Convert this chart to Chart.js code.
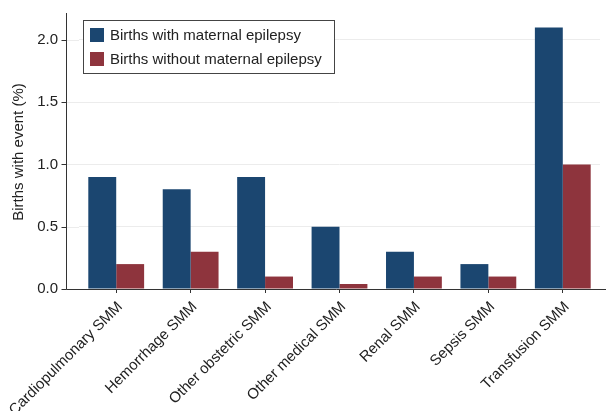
<!DOCTYPE html>
<html>
<head>
<meta charset="utf-8">
<script src="https://cdn.jsdelivr.net/npm/chart.js@4/dist/chart.umd.min.js"></script>
<style>
  html, body { margin: 0; padding: 0; background: #fff; }
  #wrap { width: 606px; height: 411px; }
</style>
</head>
<body>
<div id="wrap"><canvas id="smmChart" width="606" height="411"></canvas></div>
<script>
const categories = ["Cardiopulmonary SMM", "Hemorrhage SMM", "Other obstetric SMM", "Other medical SMM", "Renal SMM", "Sepsis SMM", "Transfusion SMM"];
const withEpilepsy = [0.9, 0.8, 0.9, 0.5, 0.3, 0.2, 2.1];
const withoutEpilepsy = [0.2, 0.3, 0.1, 0.04, 0.1, 0.1, 1.0];
const yTicks = [0, 0.5, 1.0, 1.5, 2.0];

const FONT = "'Liberation Sans', Arial, sans-serif";
const AXIS = "#333";

// axis lines, y tick marks, gridline stubs and the boxed legend
const framePlugin = {
  id: "frame",
  beforeDatasetsDraw(chart) {
    const { ctx, chartArea, scales } = chart;
    const axisX = chartArea.left - 13;
    ctx.save();
    ctx.strokeStyle = "#ececec";
    ctx.lineWidth = 1;
    yTicks.forEach(v => {
      if (v === 0) return;
      const y = Math.round(scales.y.getPixelForValue(v)) + 0.5;
      ctx.beginPath();
      ctx.moveTo(axisX, y);
      ctx.lineTo(chartArea.left, y);
      ctx.stroke();
    });
    ctx.restore();
  },
  afterDraw(chart) {
    const { ctx, chartArea, scales } = chart;
    const axisX = Math.round(chartArea.left - 13) + 0.5;
    const baseY = Math.round(scales.y.getPixelForValue(0)) + 0.5;
    ctx.save();
    ctx.strokeStyle = AXIS;
    ctx.lineWidth = 1;
    ctx.beginPath();
    ctx.moveTo(axisX, chartArea.top - 2);
    ctx.lineTo(axisX, baseY);
    ctx.lineTo(chart.width, baseY);
    ctx.stroke();
    yTicks.forEach(v => {
      const y = Math.round(scales.y.getPixelForValue(v)) + 0.5;
      ctx.beginPath();
      ctx.moveTo(axisX - 5, y);
      ctx.lineTo(axisX, y);
      ctx.stroke();
    });

    // legend
    const lx = 83.5, ly = 20.5, lw = 251, lh = 53;
    ctx.fillStyle = "#fff";
    ctx.fillRect(lx, ly, lw, lh);
    ctx.strokeStyle = "#444";
    ctx.strokeRect(lx, ly, lw, lh);
    ctx.font = "15px " + FONT;
    ctx.textBaseline = "middle";
    chart.data.datasets.forEach((ds, i) => {
      const top = 28 + i * 24;
      ctx.fillStyle = ds.backgroundColor;
      ctx.fillRect(90, top, 14, 14);
      ctx.fillStyle = "#222";
      ctx.fillText(ds.label, 110, top + 7.5);
    });
    ctx.restore();
  }
};

new Chart(document.getElementById("smmChart"), {
  type: "bar",
  data: {
    labels: categories,
    datasets: [
      {
        label: "Births with maternal epilepsy",
        data: withEpilepsy,
        backgroundColor: "#1b4670",
        barPercentage: 1.0,
        categoryPercentage: 0.75
      },
      {
        label: "Births without maternal epilepsy",
        data: withoutEpilepsy,
        backgroundColor: "#8e343d",
        barPercentage: 1.0,
        categoryPercentage: 0.75
      }
    ]
  },
  options: {
    responsive: false,
    animation: false,
    layout: { padding: { top: 15, right: 6, left: 0, bottom: 0 } },
    plugins: {
      legend: { display: false },
      tooltip: { enabled: false }
    },
    scales: {
      x: {
        border: { display: false },
        grid: {
          offset: false,
          drawOnChartArea: false,
          drawTicks: true,
          tickLength: 4,
          tickColor: AXIS
        },
        ticks: {
          color: "#222",
          font: { family: FONT, size: 15 },
          minRotation: 45,
          maxRotation: 45,
          padding: 5,
          labelOffset: 4,
          autoSkip: false
        },
        afterFit(scale) {
          scale.height = 122;
          scale.paddingLeft = 0;
          scale.paddingRight = 0;
        }
      },
      y: {
        min: 0,
        max: 2.2,
        border: { display: false },
        afterBuildTicks(scale) {
          scale.ticks = yTicks.map(v => ({ value: v }));
        },
        grid: {
          color: ctx => (ctx.tick && ctx.tick.value === 0) ? "rgba(0,0,0,0)" : "#ececec",
          drawTicks: false
        },
        ticks: {
          color: "#222",
          font: { family: FONT, size: 15 },
          padding: 21,
          callback: v => v.toFixed(1)
        },
        title: {
          display: true,
          text: "Births with event (%)",
          color: "#222",
          font: { family: FONT, size: 15 },
          padding: { top: 10, bottom: 0 }
        },
        afterFit(scale) {
          scale.width = 79;
          scale.paddingTop = 0;
          scale.paddingBottom = 0;
        }
      }
    }
  },
  plugins: [framePlugin]
});
</script>
</body>
</html>
